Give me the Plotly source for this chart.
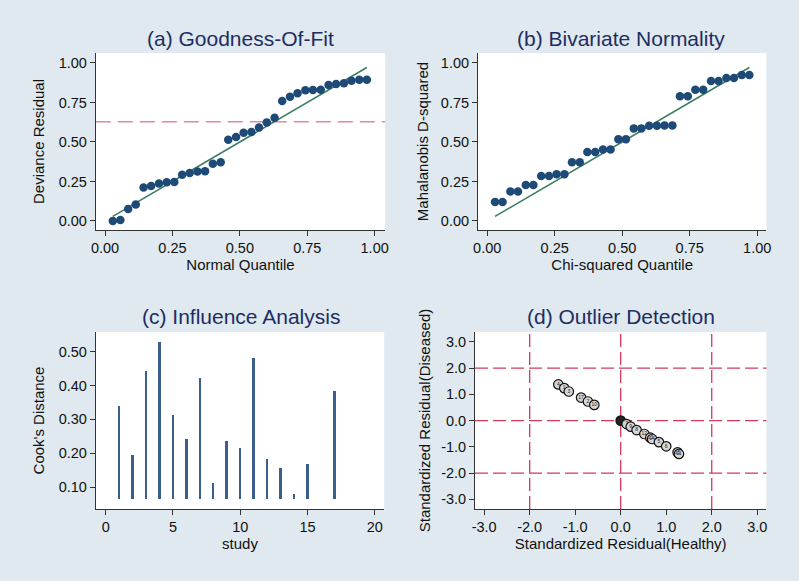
import plotly.graph_objects as go

# ---------------- data ----------------
# (a) Goodness-of-fit
normal_quantile = [0.029, 0.057, 0.086, 0.114, 0.143, 0.171, 0.200, 0.229, 0.257, 0.286,
                   0.314, 0.343, 0.371, 0.400, 0.429, 0.457, 0.486, 0.514, 0.543, 0.571,
                   0.600, 0.629, 0.657, 0.686, 0.714, 0.743, 0.771, 0.800, 0.829, 0.857,
                   0.886, 0.914, 0.943, 0.971]
deviance_residual = [0.000, 0.006, 0.076, 0.104, 0.212, 0.222, 0.237, 0.245, 0.247, 0.292,
                     0.304, 0.313, 0.315, 0.362, 0.372, 0.514, 0.531, 0.558, 0.563, 0.592,
                     0.624, 0.653, 0.759, 0.786, 0.808, 0.827, 0.829, 0.831, 0.860, 0.867,
                     0.871, 0.888, 0.894, 0.894]
ref_line_x = [0.029, 0.971]
ref_line_y = [0.029, 0.971]
deviance_cutoff = 0.628

# (b) Bivariate normality
chi2_quantile = normal_quantile
mahalanobis_d2 = [0.120, 0.120, 0.186, 0.186, 0.228, 0.228, 0.285, 0.285, 0.296, 0.296,
                  0.372, 0.372, 0.436, 0.436, 0.452, 0.452, 0.518, 0.518, 0.586, 0.586,
                  0.603, 0.603, 0.605, 0.605, 0.789, 0.789, 0.831, 0.831, 0.886, 0.886,
                  0.905, 0.905, 0.924, 0.924]

# (c) Influence analysis
study = [1, 2, 3, 4, 5, 6, 7, 8, 9, 10, 11, 12, 13, 14, 15, 17]
cooks_distance = [0.338, 0.195, 0.444, 0.529, 0.312, 0.242, 0.421, 0.112, 0.235, 0.216,
                  0.481, 0.184, 0.157, 0.078, 0.168, 0.383]
spike_base = 0.064

# (d) Outlier detection
resid_healthy = [-1.37, -1.24, -1.14, -0.87, -0.72, -0.58,
                 0.00, 0.13, 0.22, 0.35, 0.52, 0.65, 0.69, 0.84, 1.00, 1.25, 1.28]
resid_diseased = [1.38, 1.24, 1.11, 0.88, 0.73, 0.60,
                  0.00, -0.13, -0.23, -0.36, -0.51, -0.65, -0.70, -0.82, -0.98, -1.21, -1.27]
point_labels = ["4", "1", "3", "17", "2", "10",
                "16", "7", "9", "8", "12", "13", "14", "5", "6", "15", "11"]
ref_levels = [-2, 0, 2]
resid_ticks = [-3, -2, -1, 0, 1, 2, 3]
resid_tick_text = ["-3.0", "-2.0", "-1.0", "0.0", "1.0", "2.0", "3.0"]
quantile_ticks = [0, 0.25, 0.5, 0.75, 1.0]
cooks_ticks = [0.1, 0.2, 0.3, 0.4, 0.5]
study_ticks = [0, 5, 10, 15, 20]

# ---------------- style ----------------
BG = "#dfe9ef"
NAVY = "#1e4a78"
GREEN = "#3b7f62"
PINK = "#e2899a"
CRIMSON = "#cf3b5c"
TITLE_C = "#212d62"
FONT = "Liberation Sans, Arial, sans-serif"
TICKF = dict(family=FONT, size=14.5, color="#111111")
AXTF = dict(family=FONT, size=15, color="#111111")

W, H = 799, 581

def px_x(p):
    return p / W

def px_y(p):
    return 1 - p / H

dom = {
    "a": ([px_x(92), px_x(385)], [px_y(230), px_y(53)]),
    "b": ([px_x(479), px_x(771)], [px_y(230), px_y(53)]),
    "c": ([px_x(92), px_x(384)], [px_y(509), px_y(332)]),
    "d": ([px_x(476), px_x(771)], [px_y(509), px_y(332)]),
}

fig = go.Figure()

# (a)
fig.add_trace(go.Scatter(x=ref_line_x, y=ref_line_y, mode="lines",
                         line=dict(color=GREEN, width=1.6), xaxis="x", yaxis="y",
                         showlegend=False, hoverinfo="skip"))
fig.add_trace(go.Scatter(x=normal_quantile, y=deviance_residual, mode="markers",
                         marker=dict(color=NAVY, size=8.5), xaxis="x", yaxis="y",
                         showlegend=False))
# (b)
fig.add_trace(go.Scatter(x=ref_line_x, y=ref_line_y, mode="lines",
                         line=dict(color=GREEN, width=1.6), xaxis="x2", yaxis="y2",
                         showlegend=False, hoverinfo="skip"))
fig.add_trace(go.Scatter(x=chi2_quantile, y=mahalanobis_d2, mode="markers",
                         marker=dict(color=NAVY, size=8.5), xaxis="x2", yaxis="y2",
                         showlegend=False))
# (c)
fig.add_trace(go.Bar(x=study, y=[v - spike_base for v in cooks_distance], base=spike_base,
                     width=0.14, marker=dict(color="#3a5f8c", line=dict(width=0)),
                     xaxis="x3", yaxis="y3", showlegend=False,
                     customdata=cooks_distance,
                     hovertemplate="study %{x}: %{customdata}<extra></extra>"))
# (d)
fills = ["#d6d6d6"] * len(resid_healthy)
fills[6] = "#222222"
fig.add_trace(go.Scatter(x=resid_healthy, y=resid_diseased, mode="markers+text",
                         text=point_labels, textposition="middle center",
                         textfont=dict(family=FONT, size=5, color="#222222"),
                         marker=dict(color=fills, size=9.5, line=dict(color="#111111", width=1.2)),
                         xaxis="x4", yaxis="y4", showlegend=False))

shapes = []
shapes.append(dict(type="line", xref="x domain", yref="y", x0=0, x1=1,
                   y0=deviance_cutoff, y1=deviance_cutoff,
                   line=dict(color=PINK, width=1.6, dash="15px,7px"), layer="below"))
for lv in ref_levels:
    shapes.append(dict(type="line", xref="x4 domain", yref="y4", x0=0, x1=1, y0=lv, y1=lv,
                       line=dict(color=CRIMSON, width=1.3, dash="13px,5px"), layer="below"))
    shapes.append(dict(type="line", xref="x4", yref="y4 domain", x0=lv, x1=lv, y0=0, y1=1,
                       line=dict(color=CRIMSON, width=1.3, dash="13px,5px"), layer="below"))

def axis(domain, anchor, rng, tickvals, fmt, title, standoff, ticktext=None):
    d = dict(domain=domain, anchor=anchor, range=rng, tickvals=tickvals, tickformat=fmt,
             showline=True, linecolor="#333333", linewidth=1, ticks="outside",
             ticklen=5, tickcolor="#333333", showgrid=False, zeroline=False,
             tickfont=TICKF, title=dict(text=title, font=AXTF, standoff=standoff),
             fixedrange=True)
    if ticktext is not None:
        d["ticktext"] = ticktext
        d.pop("tickformat")
    return d

titles = [
    ("(a) Goodness-Of-Fit", px_x(238.5), px_y(39)),
    ("(b) Bivariate Normality", px_x(624), px_y(39)),
    ("(c) Influence Analysis", px_x(238.5), px_y(316)),
    ("(d) Outlier Detection", px_x(624), px_y(316)),
]
annotations = [dict(text=t, x=x, y=y, xref="paper", yref="paper", showarrow=False,
                    xanchor="center", yanchor="middle",
                    font=dict(family=FONT, size=21, color=TITLE_C)) for t, x, y in titles]

fig.update_layout(
    width=W, height=H,
    margin=dict(l=0, r=0, t=0, b=0),
    paper_bgcolor=BG, plot_bgcolor="white",
    font=dict(family=FONT),
    xaxis=axis(dom["a"][0], "y", [-0.034, 1.039], quantile_ticks, ".2f", "Normal Quantile", 1),
    yaxis=axis(dom["a"][1], "x", [-0.057, 1.063], quantile_ticks, ".2f", "Deviance Residual", 10),
    xaxis2=axis(dom["b"][0], "y2", [-0.034, 1.034], quantile_ticks, ".2f", "Chi-squared Quantile", 1),
    yaxis2=axis(dom["b"][1], "x2", [-0.057, 1.063], quantile_ticks, ".2f", "Mahalanobis D-squared", 8),
    xaxis3=axis(dom["c"][0], "y3", [-0.73, 20.7], study_ticks, "d", "study", 1),
    yaxis3=axis(dom["c"][1], "x3", [0.035, 0.558], cooks_ticks, ".2f", "Cook's Distance", 10),
    xaxis4=axis(dom["d"][0], "y4", [-3.2, 3.2], resid_ticks, None, "Standardized Residual(Healthy)", 1,
                ticktext=resid_tick_text),
    yaxis4=axis(dom["d"][1], "x4", [-3.37, 3.38], resid_ticks, None, "Standardized Residual(Diseased)", 6,
                ticktext=resid_tick_text),
    shapes=shapes,
    annotations=annotations,
    bargap=0,
)

fig.write_html("out.html", config={"displayModeBar": False},
               post_script="document.body.style.margin='0';document.body.style.overflow='hidden';")
